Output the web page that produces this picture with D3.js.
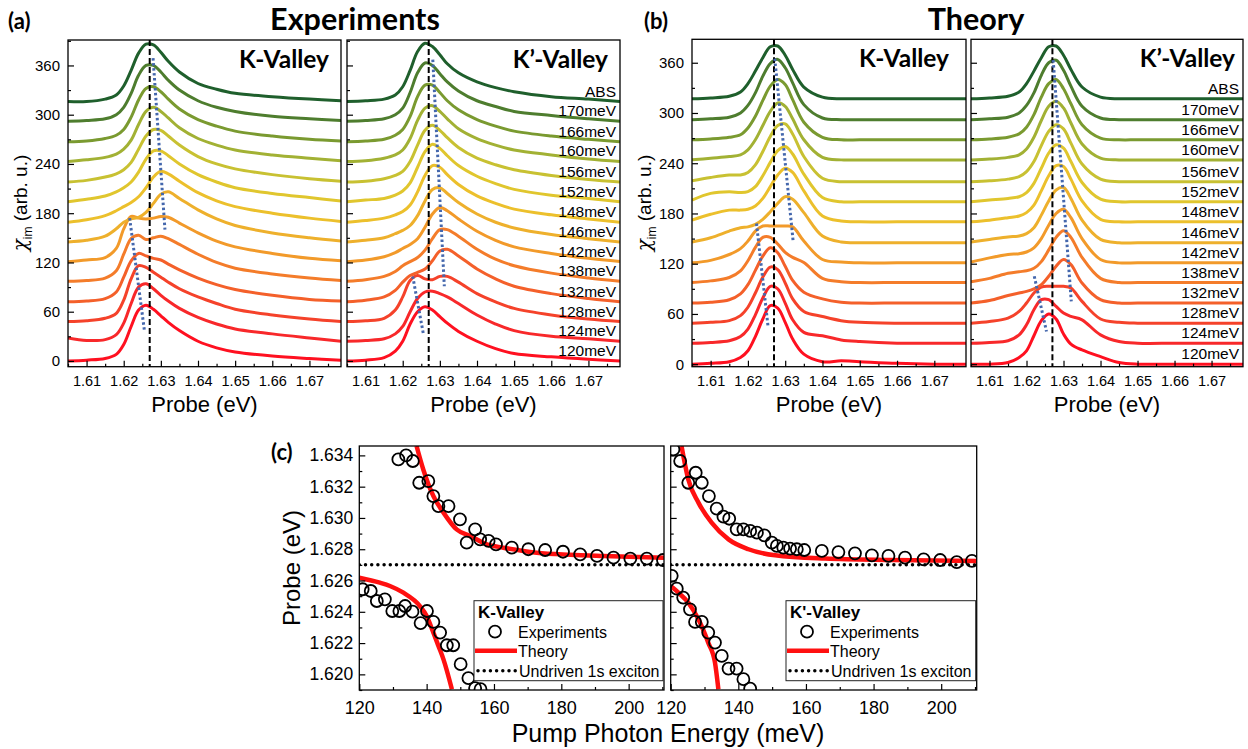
<!DOCTYPE html>
<html>
<head>
<meta charset="utf-8">
<script src="https://cdn.jsdelivr.net/npm/d3@7"></script>
<style>
  body { margin: 0; background: #fff; }
  text { font-family: "Liberation Sans", Arial, sans-serif; fill: #000; }
  .bold { font-family: Lato, "Open Sans", sans-serif; font-weight: 700; }
</style>
</head>
<body>
<svg id="fig" width="1248" height="749"></svg>
<script>
// ---- data ----
// probe energies (eV) where each trace was read
const probeGrid = [1.605, 1.610, 1.615, 1.618, 1.620, 1.622, 1.624, 1.626, 1.628, 1.630,
  1.632, 1.635, 1.640, 1.645, 1.650, 1.660, 1.670, 1.6785];

// traces bottom -> top
const pumpLabels = ["120meV", "124meV", "128meV", "132meV", "138meV", "142meV", "146meV",
  "148meV", "152meV", "156meV", "160meV", "166meV", "170meV", "ABS"];

const traceColors = ["#ff1020", "#f8282a", "#f5422a", "#f4602a", "#f47c2a", "#f29a2a", "#eeb02c",
  "#ecc02c", "#e0c62e", "#c8c132", "#a2b134", "#7a9a30", "#4e7d2e", "#1f5f2c"];

const expOffsets = [0, 24, 48, 72, 97, 121, 145, 169, 194, 218, 243, 267, 292, 316];
const theoryOffsets = [0, 25, 49, 73, 97.5, 121, 145, 170, 194, 218, 244, 268, 292, 317];

// chi_im above each trace's offset (arb. u.)
const expK = [
  [0, 1, 3, 8, 20, 42, 62, 68, 63, 55, 47, 37, 24, 16, 11, 6, 3, 1],
  [4, 1, 2, 8, 22, 46, 66, 70, 64, 56, 49, 40, 29, 21, 15, 9, 4, 0],
  [0, 1, 4, 10, 26, 52, 68, 66, 60, 54, 48, 40, 30, 22, 15, 8, 3, 0],
  [0, 1, 4, 12, 30, 50, 59, 56, 53, 51, 46, 39, 29, 21, 15, 8, 3, 1],
  [0, 1, 4, 13, 33, 52, 56, 51, 53, 55, 52, 45, 33, 23, 16, 9, 4, 1],
  [0, 2, 5, 16, 40, 55, 53, 52, 53, 55, 54, 47, 35, 25, 18, 10, 4, 1],
  [0, 2, 7, 16, 24, 28, 30, 36, 47, 58, 61, 53, 39, 28, 20, 11, 5, 1],
  [0, 3, 8, 14, 19, 24, 31, 42, 55, 62, 59, 50, 36, 26, 19, 11, 5, 1],
  [0, 3, 7, 12, 17, 24, 36, 52, 62, 62, 56, 46, 33, 24, 17, 10, 5, 1],
  [0, 2, 6, 10, 15, 24, 40, 56, 64, 63, 56, 45, 31, 22, 16, 9, 4, 1],
  [0, 2, 5, 9, 15, 26, 45, 61, 66, 61, 53, 41, 28, 20, 14, 8, 4, 1],
  [0, 1, 4, 8, 15, 30, 51, 65, 67, 61, 52, 40, 27, 19, 13, 7, 3, 1],
  [0, 1, 3, 8, 17, 34, 56, 68, 68, 60, 50, 38, 25, 17, 12, 6, 3, 1],
  [0, 0, 3, 8, 19, 38, 59, 70, 69, 60, 49, 36, 22, 15, 10, 6, 3, 1]
];
const expKp = [
  [0, 1, 4, 12, 24, 45, 60, 66, 62, 54, 46, 36, 24, 15, 9, 5, 2, 0],
  [0, 1, 3, 9, 18, 36, 52, 60, 61, 58, 54, 46, 32, 21, 13, 6, 3, 0],
  [0, 1, 4, 14, 30, 50, 56, 52, 51, 55, 55, 48, 34, 24, 16, 8, 3, 0],
  [0, 2, 6, 14, 24, 32, 36, 40, 50, 62, 64, 56, 40, 28, 19, 10, 4, 0],
  [0, 2, 6, 12, 19, 24, 29, 38, 52, 63, 63, 55, 39, 27, 19, 10, 4, 0],
  [0, 2, 6, 11, 16, 21, 28, 42, 58, 66, 62, 52, 37, 26, 18, 10, 4, 0],
  [0, 2, 5, 10, 14, 20, 32, 50, 64, 66, 59, 48, 34, 24, 17, 9, 4, 0],
  [0, 2, 5, 9, 13, 21, 37, 57, 69, 67, 58, 46, 32, 23, 16, 9, 4, 0],
  [0, 2, 4, 8, 13, 23, 42, 61, 70, 65, 56, 44, 31, 22, 15, 8, 4, 0],
  [0, 1, 4, 8, 13, 25, 45, 63, 69, 63, 54, 42, 29, 21, 15, 8, 3, 0],
  [0, 1, 4, 8, 14, 28, 50, 65, 68, 61, 52, 40, 28, 20, 14, 8, 3, 0],
  [0, 1, 3, 8, 15, 31, 55, 69, 69, 60, 50, 39, 27, 19, 13, 7, 3, 0],
  [0, 1, 3, 8, 16, 35, 59, 71, 68, 58, 48, 37, 25, 18, 12, 7, 3, 0],
  [0, 1, 3, 8, 18, 38, 61, 71, 67, 57, 46, 35, 24, 17, 12, 6, 3, 0]
];
const theoryK = [
  [0, 1, 3, 8, 16, 33, 54, 70, 67, 50, 30, 12, 3, 4, 3, 1, 0, 0],
  [0, 1, 3, 8, 17, 34, 54, 68, 65, 48, 28, 13, 9, 4, 2, 0, 0, 0],
  [0, 1, 3, 9, 19, 36, 55, 67, 64, 48, 29, 14, 8, 3, 1, 0, 0, 0],
  [0, 1, 4, 11, 22, 39, 56, 66, 60, 44, 27, 13, 5, 1, 0, 0, 0, 0],
  [0, 2, 6, 14, 26, 42, 54, 54, 46, 36, 30, 24, 5, 1, 0, 0, 0, 0],
  [0, 3, 10, 17, 26, 38, 44, 44, 44, 44, 43, 26, 4, 1, 0, 0, 0, 0],
  [1, 6, 14, 18, 19, 22, 28, 37, 47, 55, 52, 36, 8, 1, 0, 0, 0, 0],
  [2, 9, 14, 14, 15, 19, 28, 42, 56, 64, 59, 37, 7, 1, 0, 0, 0, 0],
  [2, 10, 12, 11, 12, 18, 31, 47, 61, 66, 57, 33, 5, 0, 0, 0, 0, 0],
  [1, 5, 8, 8, 11, 20, 36, 54, 67, 69, 57, 30, 4, 0, 0, 0, 0, 0],
  [0, 2, 4, 6, 12, 24, 41, 58, 68, 64, 49, 24, 3, 0, 0, 0, 0, 0],
  [0, 1, 3, 6, 14, 28, 47, 64, 72, 66, 48, 21, 3, 0, 0, 0, 0, 0],
  [0, 1, 3, 8, 17, 32, 52, 67, 72, 62, 44, 18, 2, 0, 0, 0, 0, 0],
  [0, 1, 3, 8, 18, 33, 49, 62, 63, 52, 35, 14, 2, 0, 0, 0, 0, 0]
];
const theoryKp = [
  [0, 0, 2, 8, 16, 34, 52, 60, 54, 36, 24, 17, 9, 2, 0, 0, 0, 0],
  [0, 1, 3, 10, 22, 40, 52, 52, 44, 36, 32, 28, 10, 2, 0, 0, 0, 0],
  [0, 2, 6, 14, 24, 36, 43, 44, 44, 44, 42, 26, 5, 1, 0, 0, 0, 0],
  [0, 3, 9, 12, 14, 17, 22, 32, 44, 52, 46, 24, 4, 0, 0, 0, 0, 0],
  [1, 5, 11, 13, 14, 17, 25, 39, 54, 62, 54, 30, 5, 0, 0, 0, 0, 0],
  [1, 6, 10, 11, 13, 18, 29, 45, 59, 64, 54, 29, 4, 0, 0, 0, 0, 0],
  [1, 4, 7, 8, 11, 18, 33, 50, 63, 66, 53, 27, 4, 0, 0, 0, 0, 0],
  [0, 2, 5, 7, 11, 20, 37, 55, 67, 66, 51, 25, 3, 0, 0, 0, 0, 0],
  [0, 2, 4, 6, 11, 22, 40, 58, 68, 64, 48, 23, 3, 0, 0, 0, 0, 0],
  [0, 1, 3, 6, 12, 24, 43, 60, 68, 63, 46, 21, 3, 0, 0, 0, 0, 0],
  [0, 1, 3, 6, 13, 27, 47, 64, 70, 62, 44, 19, 2, 0, 0, 0, 0, 0],
  [0, 1, 3, 7, 15, 30, 51, 67, 72, 61, 43, 18, 2, 0, 0, 0, 0, 0],
  [0, 1, 3, 8, 17, 32, 53, 68, 71, 59, 40, 16, 2, 0, 0, 0, 0, 0],
  [0, 1, 3, 8, 18, 33, 49, 62, 63, 52, 35, 14, 2, 0, 0, 0, 0, 0]
];

// blue dotted peak guides [probe1, chi1, probe2, chi2]
const guidesExpK = [[1.6279, 369, 1.6311, 160], [1.6216, 174, 1.6256, 36]];
const guidesExpKp = [[1.6281, 367, 1.6312, 91], [1.6227, 103, 1.6256, 32]];
const guidesThK = [[1.6272, 365, 1.6321, 148], [1.6223, 168, 1.6254, 45]];
const guidesThKp = [[1.6272, 363, 1.6321, 75], [1.6221, 105, 1.6254, 39]];

const exciton1s = 1.627;

// (c) pump photon energy (meV) vs probe (eV)
const kExpUpper = [[131.6, 1.63374], [133.9, 1.634], [135.9, 1.63364], [137.8, 1.63225], [140.5, 1.63236],
  [142, 1.6314], [143.5, 1.63076], [146.5, 1.63076], [149.9, 1.62991], [151.9, 1.62842], [154.4, 1.62927],
  [155.9, 1.62863], [158.4, 1.62853], [160.6, 1.62831], [165.3, 1.6281], [170.2, 1.628], [175.2, 1.62795],
  [180.5, 1.62784], [185.6, 1.62767], [190.6, 1.62757], [195.5, 1.62746], [200.5, 1.6274], [205.4, 1.6274],
  [210.2, 1.62731]];
const kExpLower = [[121, 1.62544], [123.4, 1.62533], [125.2, 1.62469], [127.6, 1.6248], [129.8, 1.62405],
  [131.9, 1.62405], [133.6, 1.62437], [135.8, 1.62401], [138.2, 1.62328], [140.1, 1.62405], [142, 1.62335],
  [144, 1.62267], [146, 1.62186], [147.9, 1.62186], [150.1, 1.62065], [152.4, 1.61976], [154.4, 1.61912],
  [156, 1.61905]];
const kThUpper = [[137, 1.6346], [139, 1.6331], [142, 1.6314], [145, 1.63034], [148.9, 1.62927], [152.9, 1.62885],
  [157.9, 1.62831], [162.8, 1.6281], [172.7, 1.62778], [182.6, 1.62765], [192.5, 1.62757], [210.5, 1.62746]];
const kThLower = [[120, 1.62618], [126.1, 1.62586], [129.1, 1.62565], [133.1, 1.62522], [138, 1.62437],
  [140, 1.62373], [142, 1.62267], [143.5, 1.62182], [145, 1.62096], [147.5, 1.61905]];

const kpExpUpper = [[120.8, 1.63438], [122.8, 1.63364], [125.2, 1.63225], [127.4, 1.63289], [129.2, 1.63225],
  [131.3, 1.6314], [133.6, 1.63059], [135.6, 1.63008], [137.3, 1.62995], [139.5, 1.62927], [141.5, 1.62927],
  [143.5, 1.62917], [145.5, 1.62906], [147.7, 1.62889], [149.9, 1.62842], [151.4, 1.62821], [153.3, 1.6281],
  [155.3, 1.62804], [157.3, 1.628], [159.5, 1.62795], [164.7, 1.62789], [169.6, 1.62782], [174.5, 1.62774],
  [179.5, 1.62761], [184.4, 1.62757], [189.3, 1.62746], [194.8, 1.62735], [199.7, 1.62731], [204.6, 1.62718],
  [209.1, 1.62725]];
const kpExpLower = [[120.3, 1.6263], [121.8, 1.62548], [123.7, 1.62491], [125.7, 1.62416], [127.2, 1.62335],
  [129.2, 1.62335], [131.1, 1.62267], [133.1, 1.62203], [135.1, 1.62118], [137.1, 1.62037], [139.5, 1.62037],
  [141.5, 1.61969], [143.5, 1.61909]];
const kpThUpper = [[123.2, 1.6346], [125.2, 1.63247], [128.2, 1.63098], [132.1, 1.6297], [137.1, 1.62863],
  [143, 1.628], [150.9, 1.62761], [165.7, 1.6274], [185.4, 1.62731], [210.5, 1.62725]];
const kpThLower = [[120, 1.62565], [122.3, 1.62522], [125.2, 1.62459], [128.2, 1.62352], [131.1, 1.62203],
  [133.1, 1.62075], [134.1, 1.61905]];

const probeTicks = [1.61, 1.62, 1.63, 1.64, 1.65, 1.66, 1.67];
const probeMinor = [1.605, 1.615, 1.625, 1.635, 1.645, 1.655, 1.665, 1.675];
const chiTicks = [0, 60, 120, 180, 240, 300, 360];
const chiMinor = [30, 90, 150, 210, 270, 330, 390];
const pumpTicks = [120, 140, 160, 180, 200];
const pumpMinor = [130, 150, 170, 190, 210];
const probeCTicks = [1.620, 1.622, 1.624, 1.626, 1.628, 1.630, 1.632, 1.634];
const probeCMinor = [1.619, 1.621, 1.623, 1.625, 1.627, 1.629, 1.631, 1.633];

// ---- drawing ----
const svg = d3.select("#fig");
let clipCount = 0;

function styleAxis(sel, size) {
  sel.select(".domain").remove();
  sel.selectAll("line").attr("stroke", "#000").attr("stroke-width", 1.2);
  sel.selectAll("text").attr("font-size", size).attr("font-family", "Liberation Sans, Arial, sans-serif");
}

function clipRect(g, x0, y0, x1, y1) {
  const id = "clip" + (clipCount++);
  g.append("clipPath").attr("id", id).append("rect")
    .attr("x", x0).attr("y", y0).attr("width", x1 - x0).attr("height", y1 - y0);
  return `url(#${id})`;
}

function spectraPanel(p) {
  const x = d3.scaleLinear().domain([1.605, 1.6785]).range([p.x0, p.x1]);
  const y = d3.scaleLinear().domain(p.yDomain).range([p.y1, p.y0]);
  const g = svg.append("g");
  const clip = clipRect(g, p.x0, p.y0, p.x1, p.y1);
  const plot = g.append("g").attr("clip-path", clip);

  const line = d3.line()
    .x((d, i) => x(probeGrid[i]))
    .y(d => y(d))
    .curve(d3.curveCatmullRom.alpha(0.5));

  p.traces.forEach((vals, i) => {
    plot.append("path")
      .attr("d", line(vals.map(v => v + p.offsets[i])))
      .attr("fill", "none")
      .attr("stroke", traceColors[i])
      .attr("stroke-width", 3);
  });

  // undriven exciton position
  plot.append("line")
    .attr("x1", x(exciton1s)).attr("x2", x(exciton1s))
    .attr("y1", p.y0).attr("y2", p.y1)
    .attr("stroke", "#000").attr("stroke-width", 2).attr("stroke-dasharray", "6,3");

  p.guides.forEach(d => {
    plot.append("line")
      .attr("x1", x(d[0])).attr("y1", y(d[1]))
      .attr("x2", x(d[2])).attr("y2", y(d[3]))
      .attr("stroke", "#4467ad").attr("stroke-width", 3).attr("stroke-dasharray", "2.5,2.5");
  });

  // axes, ticks inside
  g.append("g").attr("transform", `translate(0,${p.y1})`)
    .call(d3.axisBottom(x).tickValues(probeTicks).tickFormat(d3.format(".2f"))
      .tickSizeInner(-6).tickSizeOuter(0).tickPadding(9))
    .call(s => styleAxis(s, 14.5));
  g.append("g").attr("transform", `translate(0,${p.y1})`)
    .call(d3.axisBottom(x).tickValues(probeMinor).tickFormat("").tickSizeInner(-3).tickSizeOuter(0))
    .call(s => styleAxis(s, 14.5));
  g.append("g").attr("transform", `translate(${p.x0},0)`)
    .call(d3.axisLeft(y).tickValues(chiTicks).tickFormat(p.yLabels ? d3.format("d") : "")
      .tickSizeInner(-6).tickSizeOuter(0).tickPadding(8))
    .call(s => styleAxis(s, 15));
  g.append("g").attr("transform", `translate(${p.x0},0)`)
    .call(d3.axisLeft(y).tickValues(chiMinor.filter(v => v < p.yDomain[1])).tickFormat("")
      .tickSizeInner(-3).tickSizeOuter(0))
    .call(s => styleAxis(s, 15));

  g.append("rect")
    .attr("x", p.x0).attr("y", p.y0).attr("width", p.x1 - p.x0).attr("height", p.y1 - p.y0)
    .attr("fill", "none").attr("stroke", "#000").attr("stroke-width", 1.3);

  g.append("text").attr("class", "bold")
    .attr("x", p.x1 - p.titleInset).attr("y", p.y0 + 28)
    .attr("text-anchor", "end").attr("font-size", 24.5)
    .text(p.valley);

  g.append("text")
    .attr("x", (p.x0 + p.x1) / 2).attr("y", 412)
    .attr("text-anchor", "middle").attr("font-size", 22)
    .text("Probe (eV)");

  if (p.rightLabels) {
    pumpLabels.forEach((lab, i) => {
      g.append("text")
        .attr("x", p.x1 - 4).attr("y", y(p.offsets[i]) - 5)
        .attr("text-anchor", "end").attr("font-size", 15.5)
        .text(lab);
    });
  }
}

function chiLabel(cx, cy) {
  const t = svg.append("text")
    .attr("transform", `translate(${cx},${cy}) rotate(-90)`)
    .attr("text-anchor", "middle").attr("font-size", 19);
  t.append("tspan").attr("font-family", "DejaVu Serif, serif").attr("font-style", "italic")
    .attr("font-size", 20).text("\u03c7");
  t.append("tspan").attr("font-size", 12).attr("dy", 5).text("im");
  t.append("tspan").attr("dy", -5).text(" (arb. u.)");
}

// (a) experiments
spectraPanel({ x0: 68, x1: 341, y0: 40, y1: 366.7, yDomain: [-7, 391], traces: expK, offsets: expOffsets,
  guides: guidesExpK, yLabels: true, valley: "K-Valley", titleInset: 12 });
spectraPanel({ x0: 347, x1: 620, y0: 40, y1: 366.7, yDomain: [-7, 391], traces: expKp, offsets: expOffsets,
  guides: guidesExpKp, yLabels: false, valley: "K\u2019-Valley", titleInset: 12, rightLabels: true });
// (b) theory
spectraPanel({ x0: 692, x1: 966, y0: 39.3, y1: 366.7, yDomain: [-3, 388], traces: theoryK, offsets: theoryOffsets,
  guides: guidesThK, yLabels: true, valley: "K-Valley", titleInset: 17 });
spectraPanel({ x0: 971, x1: 1243, y0: 39.3, y1: 366.7, yDomain: [-3, 388], traces: theoryKp, offsets: theoryOffsets,
  guides: guidesThKp, yLabels: false, valley: "K\u2019-Valley", titleInset: 8, rightLabels: true });

chiLabel(27, 203);
chiLabel(651, 203);

svg.append("text").attr("class", "bold").attr("x", 355).attr("y", 30)
  .attr("text-anchor", "middle").attr("font-size", 30.5).text("Experiments");
svg.append("text").attr("class", "bold").attr("x", 976).attr("y", 30)
  .attr("text-anchor", "middle").attr("font-size", 30.5).text("Theory");
svg.append("text").attr("class", "bold").attr("x", 8).attr("y", 29).attr("font-size", 22).text("(a)");
svg.append("text").attr("class", "bold").attr("x", 644).attr("y", 29).attr("font-size", 22).text("(b)");
svg.append("text").attr("class", "bold").attr("x", 271).attr("y", 460).attr("font-size", 22).text("(c)");

// (c) anticrossing
function crossingPanel(p) {
  const x = d3.scaleLinear().domain([120, 210.5]).range([p.x0, p.x1]);
  const y = d3.scaleLinear().domain([1.619, 1.6346]).range([p.y1, p.y0]);
  const g = svg.append("g");
  const clip = clipRect(g, p.x0, p.y0, p.x1, p.y1);
  const plot = g.append("g").attr("clip-path", clip);

  plot.append("line")
    .attr("x1", p.x0).attr("x2", p.x1).attr("y1", y(exciton1s)).attr("y2", y(exciton1s))
    .attr("stroke", "#000").attr("stroke-width", 3.5)
    .attr("stroke-dasharray", "0,6.2").attr("stroke-linecap", "round");

  const line = d3.line().x(d => x(d[0])).y(d => y(d[1])).curve(d3.curveMonotoneX);
  [p.thUpper, p.thLower].forEach(ser => {
    plot.append("path").attr("d", line(ser))
      .attr("fill", "none").attr("stroke", "#ff1010").attr("stroke-width", 4.5);
  });

  plot.selectAll("circle.pt").data(p.expUpper.concat(p.expLower)).join("circle")
    .attr("class", "pt")
    .attr("cx", d => x(d[0])).attr("cy", d => y(d[1])).attr("r", 6)
    .attr("fill", "none").attr("stroke", "#000").attr("stroke-width", 1.8);

  g.append("g").attr("transform", `translate(0,${p.y1})`)
    .call(d3.axisBottom(x).tickValues(pumpTicks).tickFormat(d3.format("d"))
      .tickSizeInner(-6).tickSizeOuter(0).tickPadding(11))
    .call(s => styleAxis(s, 18));
  g.append("g").attr("transform", `translate(0,${p.y1})`)
    .call(d3.axisBottom(x).tickValues(pumpMinor).tickFormat("").tickSizeInner(-3).tickSizeOuter(0))
    .call(s => styleAxis(s, 18));
  g.append("g").attr("transform", `translate(${p.x0},0)`)
    .call(d3.axisLeft(y).tickValues(probeCTicks).tickFormat(p.yLabels ? d3.format(".3f") : "")
      .tickSizeInner(-6).tickSizeOuter(0).tickPadding(6))
    .call(s => styleAxis(s, 17.5));
  g.append("g").attr("transform", `translate(${p.x0},0)`)
    .call(d3.axisLeft(y).tickValues(probeCMinor).tickFormat("").tickSizeInner(-3).tickSizeOuter(0))
    .call(s => styleAxis(s, 17.5));

  g.append("rect")
    .attr("x", p.x0).attr("y", p.y0).attr("width", p.x1 - p.x0).attr("height", p.y1 - p.y0)
    .attr("fill", "none").attr("stroke", "#000").attr("stroke-width", 1.3);

  // legend
  const lx = p.legendX, ly = 600.7;
  const lg = g.append("g");
  lg.append("rect").attr("x", lx).attr("y", ly).attr("width", p.x1 - lx - 1).attr("height", 80)
    .attr("fill", "#fff").attr("stroke", "#222").attr("stroke-width", 1);
  lg.append("text").attr("x", lx + 4).attr("y", ly + 17)
    .attr("font-weight", 700).attr("font-size", 17).text(p.valley);
  lg.append("circle").attr("cx", lx + 21).attr("cy", ly + 31)
    .attr("r", 6).attr("fill", "none").attr("stroke", "#000").attr("stroke-width", 1.8);
  lg.append("line").attr("x1", lx + 1).attr("x2", lx + 43).attr("y1", ly + 50).attr("y2", ly + 50)
    .attr("stroke", "#ff1010").attr("stroke-width", 4.5);
  lg.append("line").attr("x1", lx + 4).attr("x2", lx + 42).attr("y1", ly + 70).attr("y2", ly + 70)
    .attr("stroke", "#000").attr("stroke-width", 3.5)
    .attr("stroke-dasharray", "0,6.2").attr("stroke-linecap", "round");
  const labels = ["Experiments", "Theory", "Undriven 1s exciton"];
  const lxText = [lx + 44, lx + 44, lx + 45];
  labels.forEach((t, i) => {
    lg.append("text").attr("x", lxText[i]).attr("y", ly + 37 + i * 19.5)
      .attr("font-family", "Lato, sans-serif").attr("font-size", 16).text(t);
  });
}

crossingPanel({ x0: 359.3, x1: 664, y0: 446, y1: 690, yLabels: true, legendX: 474,
  expUpper: kExpUpper, expLower: kExpLower, thUpper: kThUpper, thLower: kThLower, valley: "K-Valley" });
crossingPanel({ x0: 670.7, x1: 976.7, y0: 446, y1: 690, yLabels: false, legendX: 786,
  expUpper: kpExpUpper, expLower: kpExpLower, thUpper: kpThUpper, thLower: kpThLower, valley: "K'-Valley" });

svg.append("text")
  .attr("transform", "translate(300,568) rotate(-90)")
  .attr("text-anchor", "middle").attr("font-size", 24).text("Probe (eV)");
svg.append("text").attr("x", 668).attr("y", 742)
  .attr("text-anchor", "middle").attr("font-size", 25).text("Pump Photon Energy (meV)");
</script>
</body>
</html>
